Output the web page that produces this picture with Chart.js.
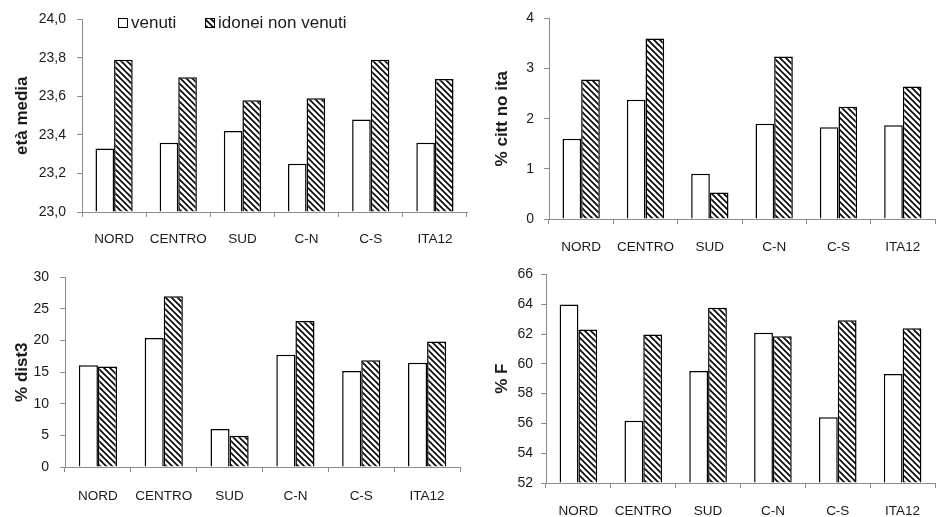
<!DOCTYPE html>
<html>
<head>
<meta charset="utf-8">
<script src="https://cdn.jsdelivr.net/npm/chart.js@4.4.1/dist/chart.umd.min.js"></script>
<style>
  html, body { margin: 0; padding: 0; background: #fff; }
  #wrap { position: relative; width: 936px; height: 517px; overflow: hidden; }
  .panel { position: absolute; }
</style>
</head>
<body>
<div id="wrap">
  <div class="panel" style="left:0;top:0;width:470px;height:258px"><canvas id="c1" width="470" height="258"></canvas></div>
  <div class="panel" style="left:470px;top:0;width:466px;height:258px"><canvas id="c2" width="466" height="258"></canvas></div>
  <div class="panel" style="left:0;top:258px;width:470px;height:259px"><canvas id="c3" width="470" height="259"></canvas></div>
  <div class="panel" style="left:470px;top:258px;width:466px;height:259px"><canvas id="c4" width="466" height="259"></canvas></div>
</div>
<script>
// ---- data ----
const categories = ['NORD', 'CENTRO', 'SUD', 'C-N', 'C-S', 'ITA12'];
const seriesLabels = ['venuti', 'idonei non venuti'];

const etaVenuti = [23.33, 23.36, 23.42, 23.25, 23.48, 23.36];
const etaIdonei = [23.79, 23.70, 23.58, 23.59, 23.79, 23.69];
const etaTicks = [23.0, 23.2, 23.4, 23.6, 23.8, 24.0];

const cittVenuti = [1.60, 2.38, 0.90, 1.90, 1.83, 1.87];
const cittIdonei = [2.78, 3.60, 0.53, 3.24, 2.24, 2.64];
const cittTicks = [0, 1, 2, 3, 4];

const dist3Venuti = [16.1, 20.4, 6.0, 17.75, 15.2, 16.5];
const dist3Idonei = [15.9, 27.0, 4.95, 23.1, 16.9, 19.85];
const dist3Ticks = [0, 5, 10, 15, 20, 25, 30];

const fVenuti = [63.98, 56.17, 59.52, 62.09, 56.42, 59.32];
const fIdonei = [62.31, 61.96, 63.76, 61.85, 62.92, 62.39];
const fTicks = [52, 54, 56, 58, 60, 62, 64, 66];

// ---- styling helpers ----
const FONT = '"Liberation Sans", Arial, sans-serif';
const TEXT = '#1a1a1a';
const AXIS = '#8c8c8c';

function makeHatch() {
  const c = document.createElement('canvas');
  c.width = 6; c.height = 6;
  const g = c.getContext('2d');
  g.fillStyle = '#ffffff';
  g.fillRect(0, 0, 6, 6);
  g.strokeStyle = '#000000';
  g.lineWidth = 1.6;
  for (let k = -1; k <= 1; k++) {
    g.beginPath();
    g.moveTo(-1, k * 6 - 1);
    g.lineTo(7, 7 + k * 6);
    g.stroke();
  }
  return g.createPattern(c, 'repeat');
}
const hatch = makeHatch();

const legendPlugin = {
  id: 'inlineLegend',
  afterDraw(chart) {
    const ctx = chart.ctx;
    const ds = chart.data.datasets;
    const items = [{x: 118, fill: ds[0].backgroundColor, label: ds[0].label},
                   {x: 205, fill: ds[1].backgroundColor, label: ds[1].label}];
    ctx.save();
    ctx.font = '17px ' + FONT;
    ctx.textBaseline = 'middle';
    items.forEach(it => {
      ctx.fillStyle = it.fill;
      ctx.fillRect(it.x, 18, 10, 10);
      ctx.strokeStyle = '#000';
      ctx.lineWidth = 1;
      ctx.strokeRect(it.x + 0.5, 18.5, 9, 9);
      ctx.fillStyle = TEXT;
      ctx.fillText(it.label, it.x + 13, 23.5);
    });
    ctx.restore();
  }
};

function makeChart(id, a, b, ticks, fmt, title, g, withLegend) {
  const canvas = document.getElementById(id);
  const W = canvas.width, H = canvas.height;
  return new Chart(canvas, {
    type: 'bar',
    data: {
      labels: categories,
      datasets: [
        { label: seriesLabels[0], data: a, backgroundColor: '#ffffff', borderColor: '#000000',
          borderWidth: 1.5, base: ticks[0], categoryPercentage: 0.58, barPercentage: 1.0 },
        { label: seriesLabels[1], data: b, backgroundColor: hatch, borderColor: '#000000',
          borderWidth: 1.5, base: ticks[0], categoryPercentage: 0.58, barPercentage: 1.0 }
      ]
    },
    options: {
      responsive: false,
      animation: false,
      devicePixelRatio: 1,
      layout: { padding: { left: 0, top: g.top, right: W - g.right, bottom: 0 } },
      plugins: { legend: { display: false }, tooltip: { enabled: false } },
      scales: {
        x: {
          afterFit: s => { s.height = H - g.bottom; },
          grid: { drawOnChartArea: false, drawTicks: true, tickLength: 5, color: AXIS, offset: true },
          border: { display: true, color: AXIS, width: 1 },
          ticks: { font: { family: FONT, size: 13.5 }, color: TEXT, padding: g.xPad, autoSkip: false, maxRotation: 0 }
        },
        y: {
          min: ticks[0], max: ticks[ticks.length - 1],
          afterFit: s => { s.width = g.left; },
          afterBuildTicks: s => { s.ticks = ticks.map(v => ({ value: v })); },
          grid: { drawOnChartArea: false, drawTicks: true, tickLength: 5, color: AXIS },
          border: { display: true, color: AXIS, width: 1 },
          ticks: { font: { family: FONT, size: 14 }, color: TEXT, padding: g.yPad, callback: fmt },
          title: { display: true, text: title, color: TEXT, font: { family: FONT, size: 17, weight: 'bold' },
                   padding: { top: g.titlePad, bottom: 0 } }
        }
      }
    },
    plugins: withLegend ? [legendPlugin] : []
  });
}

const fmtComma = v => Number(v).toFixed(1).replace('.', ',');
const fmtInt = v => String(v);

makeChart('c1', etaVenuti, etaIdonei, etaTicks, fmtComma, 'età media',
  { left: 82, top: 15, right: 467, bottom: 212, yPad: 11, titlePad: 12, xPad: 14 }, true);
makeChart('c2', cittVenuti, cittIdonei, cittTicks, fmtInt, '% citt no ita',
  { left: 79, top: 11, right: 465, bottom: 219, yPad: 10, titlePad: 22, xPad: 15 }, false);
makeChart('c3', dist3Venuti, dist3Idonei, dist3Ticks, fmtInt, '% dist3',
  { left: 65, top: 11, right: 460, bottom: 209, yPad: 11, titlePad: 12, xPad: 16 }, false);
makeChart('c4', fVenuti, fIdonei, fTicks, fmtInt, '% F',
  { left: 76, top: 12, right: 465, bottom: 225, yPad: 8, titlePad: 22, xPad: 15 }, false);
</script>
</body>
</html>
